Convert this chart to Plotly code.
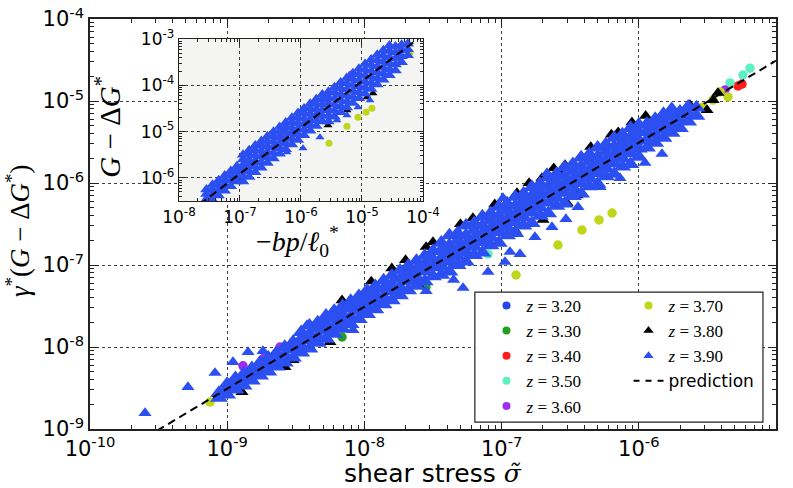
import plotly.graph_objects as go

# ------------------------------------------------------------------
# DATA (log10 values)
# ------------------------------------------------------------------
# main panel: prediction line  y = 3.1 * sigma
pred_x = [1e-10, 1e-5]
pred_y = [3.1e-10, 3.1e-5]
# inset: prediction line
inset_pred_x = [1e-8, 1e-4]
inset_pred_y = [1.23e-7, 1.23e-3]

# main panel, z = 3.90 (blue triangles): dense band, rows of (log x, [log y ...])
main_blue_rows = [
    (-9.06, [-8.62, -8.56]),
    (-9.00, [-8.58, -8.50, -8.45]),
    (-8.94, [-8.52, -8.44, -8.38]),
    (-8.88, [-8.47, -8.40, -8.33]),
    (-8.82, [-8.41, -8.33, -8.26]),
    (-8.76, [-8.35, -8.28, -8.19]),
    (-8.70, [-8.30, -8.21, -8.13]),
    (-8.64, [-8.24, -8.16, -8.07]),
    (-8.58, [-8.19, -8.10, -8.00]),
    (-8.52, [-8.13, -8.03, -7.94]),
    (-8.46, [-8.07, -7.99, -7.90, -7.82]),
    (-8.40, [-8.02, -7.92, -7.84, -7.74]),
    (-8.34, [-7.95, -7.87, -7.77, -7.70]),
    (-8.28, [-7.90, -7.80, -7.72, -7.62]),
    (-8.22, [-7.84, -7.75, -7.65, -7.56]),
    (-8.16, [-7.78, -7.69, -7.60, -7.50]),
    (-8.10, [-7.72, -7.63, -7.53, -7.44]),
    (-8.04, [-7.66, -7.56, -7.48, -7.38]),
    (-7.98, [-7.60, -7.51, -7.41, -7.31]),
    (-7.92, [-7.54, -7.45, -7.36, -7.26]),
    (-7.86, [-7.48, -7.39, -7.29, -7.19]),
    (-7.80, [-7.43, -7.32, -7.24, -7.13]),
    (-7.74, [-7.37, -7.27, -7.17, -7.07]),
    (-7.68, [-7.31, -7.20, -7.11, -7.01]),
    (-7.62, [-7.25, -7.15, -7.05, -6.95]),
    (-7.56, [-7.20, -7.08, -6.99, -6.89]),
    (-7.50, [-7.14, -7.03, -6.93, -6.83]),
    (-7.44, [-7.12, -7.02, -6.92, -6.82, -6.73]),
    (-7.38, [-7.08, -6.96, -6.86, -6.76, -6.64]),
    (-7.32, [-7.00, -6.90, -6.80, -6.70, -6.61]),
    (-7.26, [-6.96, -6.85, -6.74, -6.64, -6.52]),
    (-7.20, [-6.88, -6.78, -6.68, -6.58, -6.49]),
    (-7.14, [-6.85, -6.72, -6.62, -6.52, -6.41]),
    (-7.08, [-6.76, -6.66, -6.56, -6.46, -6.37]),
    (-7.02, [-6.73, -6.60, -6.50, -6.40, -6.29]),
    (-6.96, [-6.64, -6.54, -6.44, -6.34, -6.25]),
    (-6.90, [-6.61, -6.48, -6.38, -6.28, -6.17]),
    (-6.84, [-6.52, -6.42, -6.32, -6.22, -6.13]),
    (-6.78, [-6.49, -6.36, -6.26, -6.16, -6.05]),
    (-6.72, [-6.40, -6.30, -6.20, -6.10, -6.01]),
    (-6.66, [-6.37, -6.24, -6.14, -6.04, -5.93]),
    (-6.60, [-6.28, -6.18, -6.08, -5.98, -5.89]),
    (-6.54, [-6.25, -6.12, -6.02, -5.92, -5.81]),
    (-6.48, [-6.16, -6.06, -5.96, -5.86, -5.77]),
    (-6.42, [-6.13, -6.00, -5.90, -5.80, -5.69]),
    (-6.36, [-6.04, -5.94, -5.84, -5.74, -5.65]),
    (-6.30, [-6.01, -5.88, -5.78, -5.68, -5.57]),
    (-6.24, [-5.92, -5.82, -5.72, -5.62, -5.53]),
    (-6.18, [-5.89, -5.76, -5.66, -5.56, -5.45]),
    (-6.12, [-5.80, -5.70, -5.60, -5.50, -5.41]),
    (-6.06, [-5.77, -5.64, -5.54, -5.44, -5.33]),
    (-6.00, [-5.68, -5.58, -5.48, -5.38, -5.29]),
    (-5.94, [-5.57, -5.47, -5.37, -5.28]),
    (-5.88, [-5.51, -5.41, -5.31, -5.22]),
    (-5.82, [-5.45, -5.35, -5.25, -5.16]),
    (-5.76, [-5.39, -5.29, -5.19, -5.10]),
    (-5.70, [-5.33, -5.23, -5.13]),
    (-5.64, [-5.25, -5.15, -5.07]),
    (-5.58, [-5.18, -5.08]),
]
# main panel, z = 3.90 scattered points away from the band
main_blue_out_x = [-6.531, -6.633, -6.757, -6.866, -6.939, -6.975, -6.443, -6.283, -6.137,
                   -5.955, -5.831, -7.099, -7.281, -6.669, -8.848, -8.739, -8.958, -9.089,
                   -9.286, -9.599, -8.418, -8.229, -8.083, -6.990, -7.35, -7.55]
main_blue_out_y = [-6.439, -6.537, -6.659, -6.866, -6.841, -6.963, -6.293, -6.049, -5.939,
                   -5.756, -5.646, -7.085, -7.280, -5.878, -8.061, -8.049, -8.183, -8.317,
                   -8.488, -8.805, -7.732, -7.573, -7.793, -6.183, -7.18, -7.32]

# main panel, other z values
main_z320_x = [-8.0, -7.0, -6.5, -6.0]
main_z320_y = [-7.50, -6.50, -6.00, -5.50]
main_z330_x = [-8.163, -7.551]
main_z330_y = [-7.878, -7.268]
main_z340_x = [-5.277, -5.248]
main_z340_y = [-4.817, -4.793]
main_z350_x = [-5.241, -5.335, -7.099, -5.190]
main_z350_y = [-4.683, -4.780, -6.866, -4.600]
main_z360_x = [-8.885, -8.724, -8.615, -8.382, -8.302, -8.156, -8.010, -7.945, -5.372]
main_z360_y = [-8.23, -8.12, -8.00, -7.77, -7.70, -7.51, -7.37, -7.33, -4.866]
main_z370_x = [-6.895, -6.589, -6.414, -6.290, -6.195, -9.125, -5.350, -5.459, -5.532, -5.408]
main_z370_y = [-7.122, -6.756, -6.573, -6.451, -6.366, -8.671, -4.951, -4.988, -5.073, -4.890]
main_z380_x = [-7.209, -7.427, -6.888, -6.706, -6.574, -6.523, -6.698, -6.538, -7.682, -7.143,
               -8.163, -8.520, -8.579, -8.892, -8.251, -5.503, -5.423, -5.459, -5.627, -5.700,
               -5.882, -7.95, -7.80, -7.55, -7.30, -7.05, -6.35, -6.20, -6.05, -5.95, -6.45,
               -6.90, -7.60, -6.80, -6.62, -7.50, -7.70, -6.15]
main_z380_y = [-6.427, -6.780, -6.122, -5.939, -5.878, -6.244, -6.451, -5.780, -7.061, -6.512,
               -7.43, -8.159, -8.244, -8.549, -7.939, -5.110, -4.902, -4.988, -5.049, -5.171,
               -5.293, -7.20, -7.04, -6.78, -6.50, -6.26, -5.56, -5.41, -5.26, -5.18, -6.15,
               -6.58, -7.26, -6.00, -5.82, -6.72, -6.94, -5.38]

# inset, z = 3.90 band rows (log x, [log y ...])
inset_blue_rows = [
    (-7.55, [-6.58, -6.46, -6.35, -6.25]),
    (-7.45, [-6.48, -6.36, -6.25, -6.15]),
    (-7.35, [-6.38, -6.26, -6.15, -6.05]),
    (-7.25, [-6.28, -6.16, -6.05, -5.95]),
    (-7.15, [-6.18, -6.06, -5.95, -5.85]),
    (-7.05, [-6.08, -5.96, -5.85, -5.75]),
    (-6.95, [-6.08, -5.96, -5.84, -5.72, -5.60, -5.50]),
    (-6.85, [-5.98, -5.86, -5.74, -5.62, -5.50, -5.40]),
    (-6.75, [-5.88, -5.76, -5.64, -5.52, -5.40, -5.30]),
    (-6.65, [-5.78, -5.66, -5.54, -5.42, -5.30, -5.20]),
    (-6.55, [-5.68, -5.56, -5.44, -5.32, -5.20, -5.10]),
    (-6.45, [-5.58, -5.46, -5.34, -5.22, -5.10, -5.00]),
    (-6.35, [-5.48, -5.36, -5.24, -5.12, -5.00, -4.90]),
    (-6.25, [-5.38, -5.26, -5.14, -5.02, -4.90, -4.80]),
    (-6.15, [-5.28, -5.16, -5.04, -4.92, -4.80, -4.70]),
    (-6.05, [-5.18, -5.06, -4.94, -4.82, -4.70, -4.60]),
    (-5.95, [-5.08, -4.96, -4.84, -4.72, -4.60, -4.50]),
    (-5.85, [-4.98, -4.86, -4.74, -4.62, -4.50, -4.40]),
    (-5.75, [-4.88, -4.76, -4.64, -4.52, -4.40, -4.30]),
    (-5.65, [-4.78, -4.66, -4.54, -4.42, -4.30, -4.20]),
    (-5.55, [-4.78, -4.65, -4.52, -4.39, -4.26, -4.14]),
    (-5.45, [-4.68, -4.55, -4.42, -4.29, -4.16, -4.04]),
    (-5.35, [-4.58, -4.45, -4.32, -4.19, -4.06, -3.94]),
    (-5.25, [-4.48, -4.35, -4.22, -4.09, -3.96, -3.84]),
    (-5.15, [-4.38, -4.25, -4.12, -3.99, -3.86, -3.74]),
    (-5.05, [-4.28, -4.15, -4.02, -3.89, -3.76, -3.64]),
    (-4.95, [-4.18, -4.05, -3.92, -3.79, -3.66, -3.54]),
    (-4.85, [-4.08, -3.95, -3.82, -3.69, -3.56, -3.44]),
    (-4.75, [-3.98, -3.85, -3.72, -3.59, -3.46, -3.34]),
    (-4.65, [-3.88, -3.75, -3.62, -3.49, -3.36, -3.24]),
    (-4.55, [-3.78, -3.65, -3.52, -3.39, -3.26, -3.14]),
    (-4.45, [-3.68, -3.55, -3.42, -3.29, -3.16]),
    (-4.35, [-3.50, -3.37, -3.24, -3.12]),
    (-4.25, [-3.35, -3.22, -3.10]),
]
inset_blue_out_x = [-5.967, -5.689, -5.410, -5.246, -5.066, -4.869, -6.230]
inset_blue_out_y = [-5.361, -5.123, -4.756, -4.648, -4.475, -4.324, -5.447]
inset_z340_x = [-6.90, -6.31]
inset_z340_y = [-5.66, -5.02]
inset_z360_x = [-5.180, -7.492]
inset_z360_y = [-3.762, -6.419]
inset_z370_x = [-5.541, -5.246, -5.066, -4.934, -4.836, -4.377, -4.213, -7.279]
inset_z370_y = [-5.253, -4.886, -4.691, -4.583, -4.497, -3.222, -3.287, -6.203]
inset_z380_x = [-5.557, -5.246, -4.918, -4.820, -6.967]
inset_z380_y = [-4.864, -4.540, -4.259, -4.173, -6.052]

# legend labels and colours
z_labels = ["3.20", "3.30", "3.40", "3.50", "3.60", "3.70", "3.80", "3.90"]
z_colors = ["#2346e8", "#23a023", "#ff1c1c", "#5cf0c2", "#9d2ef0", "#bfd61b", "#000000", "#2b4ff0"]

main_xticks = [-10, -9, -8, -7, -6, -5]
main_yticks = [-9, -8, -7, -6, -5, -4]
inset_xticks = [-8, -7, -6, -5, -4]
inset_yticks = [-6, -5, -4, -3]


# ------------------------------------------------------------------
def p10(vals):
    return [10 ** v for v in vals]


def flat(rows):
    xs, ys = [], []
    for x, yl in rows:
        for y in yl:
            xs.append(x)
            ys.append(y)
    return xs, ys


mbx, mby = flat(main_blue_rows)
ibx, iby = flat(inset_blue_rows)

main_series = {
    "3.20": (main_z320_x, main_z320_y),
    "3.30": (main_z330_x, main_z330_y),
    "3.40": (main_z340_x, main_z340_y),
    "3.50": (main_z350_x, main_z350_y),
    "3.60": (main_z360_x, main_z360_y),
    "3.70": (main_z370_x, main_z370_y),
    "3.80": (main_z380_x, main_z380_y),
    "3.90": (main_blue_out_x, main_blue_out_y),
}
inset_series = {
    "3.40": (inset_z340_x, inset_z340_y),
    "3.60": (inset_z360_x, inset_z360_y),
    "3.70": (inset_z370_x, inset_z370_y),
    "3.80": (inset_z380_x, inset_z380_y),
    "3.90": (inset_blue_out_x, inset_blue_out_y),
}

SERIF = "Liberation Serif"
SANS = "DejaVu Sans"
DASH = "8px,5px"

fig = go.Figure()

# main panel data
for i, lab in enumerate(z_labels):
    sx, sy = main_series[lab]
    tri = lab in ("3.80", "3.90")
    if lab == "3.90":
        fig.add_trace(go.Scatter(
            x=p10(mbx), y=p10(mby), mode="markers",
            marker=dict(symbol="triangle-up", size=15.5, color=z_colors[i], line=dict(width=0)),
            showlegend=False, xaxis="x", yaxis="y",
        ))
    fig.add_trace(go.Scatter(
        x=p10(sx), y=p10(sy), mode="markers",
        marker=dict(symbol="triangle-up" if tri else "circle",
                    size=11.5 if tri else 9.5, color=z_colors[i], line=dict(width=0)),
        showlegend=False, xaxis="x", yaxis="y",
    ))

fig.add_trace(go.Scatter(
    x=pred_x, y=pred_y, mode="lines",
    line=dict(color="black", width=2, dash=DASH),
    showlegend=False, xaxis="x", yaxis="y",
))

# inset data
for i, lab in enumerate(z_labels):
    if lab not in inset_series:
        continue
    sx, sy = inset_series[lab]
    tri = lab in ("3.80", "3.90")
    if lab == "3.90":
        fig.add_trace(go.Scatter(
            x=p10(ibx), y=p10(iby), mode="markers",
            marker=dict(symbol="triangle-up", size=11, color=z_colors[i], line=dict(width=0)),
            showlegend=False, xaxis="x2", yaxis="y2",
        ))
    fig.add_trace(go.Scatter(
        x=p10(sx), y=p10(sy), mode="markers",
        marker=dict(symbol="triangle-up" if tri else "circle",
                    size=8 if tri else 7, color=z_colors[i], line=dict(width=0)),
        showlegend=False, xaxis="x2", yaxis="y2",
    ))

fig.add_trace(go.Scatter(
    x=inset_pred_x, y=inset_pred_y, mode="lines",
    line=dict(color="black", width=2, dash=DASH),
    showlegend=False, xaxis="x2", yaxis="y2",
))

# legend entries (legend-only traces, smaller symbols as in the reference)
for i, lab in enumerate(z_labels):
    tri = lab in ("3.80", "3.90")
    fig.add_trace(go.Scatter(
        x=[None], y=[None], mode="markers",
        marker=dict(symbol="triangle-up" if tri else "circle",
                    size=9 if tri else 8, color=z_colors[i], line=dict(width=0)),
        name=f"<i>z</i> = {lab}",
        legend="legend" if i < 5 else "legend2",
        xaxis="x", yaxis="y",
    ))
fig.add_trace(go.Scatter(
    x=[None], y=[None], mode="lines",
    line=dict(color="black", width=2, dash="6px,6px"),
    name=f"<span style='font-family:{SANS}'>prediction</span>",
    legend="legend2", xaxis="x", yaxis="y",
))


def minor_vals(lo, hi):
    out = []
    for d in range(lo, hi):
        for k in range(2, 10):
            out.append(k * 10 ** d)
    return out


def tt(v):
    return f"10<sup>-{abs(v)}</sup>"


common = dict(
    type="log", showline=True, linecolor="#222", mirror="allticks",
    ticks="inside", tickcolor="#222", tickwidth=1,
    showgrid=True, gridcolor="rgba(0,0,0,0.75)", griddash="dot", gridwidth=1,
    zeroline=False, tickmode="array",
)

fig.update_layout(
    width=793, height=488,
    margin=dict(l=90, r=17, t=19, b=59, autoexpand=False),
    paper_bgcolor="white", plot_bgcolor="#f4f5f2",
    xaxis=dict(**common, range=[-10, -5], domain=[0, 1], anchor="y", linewidth=1.6,
               tickvals=[10 ** v for v in main_xticks], ticktext=[tt(v) for v in main_xticks],
               ticklen=8, tickfont=dict(family=SANS, size=21, color="black"),
               minor=dict(ticks="inside", ticklen=4, tickcolor="#222",
                          tickvals=minor_vals(-10, -5), showgrid=False)),
    yaxis=dict(**common, range=[-9, -4], domain=[0, 1], anchor="x", linewidth=1.6,
               tickvals=[10 ** v for v in main_yticks], ticktext=[tt(v) for v in main_yticks],
               ticklen=8, tickfont=dict(family=SANS, size=21, color="black"),
               minor=dict(ticks="inside", ticklen=4, tickcolor="#222",
                          tickvals=minor_vals(-9, -4), showgrid=False)),
    xaxis2=dict(**common, range=[-8, -4], domain=[0.1297, 0.4854], anchor="y2", linewidth=1.4,
                tickvals=[10 ** v for v in inset_xticks], ticktext=[tt(v) for v in inset_xticks],
                ticklen=6, tickfont=dict(family=SANS, size=17, color="black"),
                minor=dict(ticks="inside", ticklen=3, tickcolor="#222",
                           tickvals=minor_vals(-8, -4), showgrid=False)),
    yaxis2=dict(**common, range=[-6.5, -3], domain=[0.556, 0.951], anchor="x2", linewidth=1.4,
                tickvals=[10 ** v for v in inset_yticks], ticktext=[tt(v) for v in inset_yticks],
                ticklen=6, tickfont=dict(family=SANS, size=17, color="black"),
                minor=dict(ticks="inside", ticklen=3, tickcolor="#222",
                           tickvals=minor_vals(-7, -3), showgrid=False)),
    legend=dict(x=0.578, y=0.344, xanchor="left", yanchor="top",
                bgcolor="rgba(0,0,0,0)", borderwidth=0, tracegroupgap=0,
                font=dict(family=SERIF, size=17, color="black")),
    legend2=dict(x=0.785, y=0.344, xanchor="left", yanchor="top",
                 bgcolor="rgba(0,0,0,0)", borderwidth=0, tracegroupgap=0,
                 font=dict(family=SERIF, size=17, color="black")),
    showlegend=True,
)

# white background for the main panel (inset keeps the light grey plot_bgcolor)
fig.add_shape(type="rect", xref="x domain", yref="y domain", x0=0, x1=1, y0=0, y1=1,
              fillcolor="white", line=dict(width=0), layer="below")
# legend frame
fig.add_shape(type="rect", xref="paper", yref="paper", x0=0.561, x1=0.981, y0=0.017, y1=0.334,
              fillcolor="white", line=dict(color="#222", width=1.2), layer="above")

# axis titles
fig.add_annotation(text="shear stress <span style='font-family:DejaVu Serif'><i>σ̃</i></span>",
                   xref="paper", yref="paper", x=0.5, y=-0.108, showarrow=False,
                   xanchor="center", yanchor="middle",
                   font=dict(family=SANS, size=25, color="black"))
fig.add_annotation(text="<i>γ</i><sup>*</sup>(<i>G</i> − Δ<i>G</i><sup>*</sup>)",
                   xref="paper", yref="paper", x=-0.105, y=0.485, showarrow=False,
                   textangle=-90, xanchor="center", yanchor="middle",
                   font=dict(family=SERIF, size=27, color="black"))
fig.add_annotation(text="<i>G</i> − Δ<i>G</i><sup>*</sup>",
                   xref="paper", yref="paper", x=0.026, y=0.737, showarrow=False,
                   textangle=-90, xanchor="center", yanchor="middle",
                   font=dict(family=SERIF, size=29, color="black"))
fig.add_annotation(text="−<i>bp</i>/<i>ℓ</i><sub>0</sub><sup>*</sup>",
                   xref="paper", yref="paper", x=0.303, y=0.4585, showarrow=False,
                   xanchor="center", yanchor="middle",
                   font=dict(family=SERIF, size=28, color="black"))

fig.write_html("out.html", config={"displayModeBar": False},
               post_script="document.body.style.margin='0px';document.body.style.padding='0px';")
